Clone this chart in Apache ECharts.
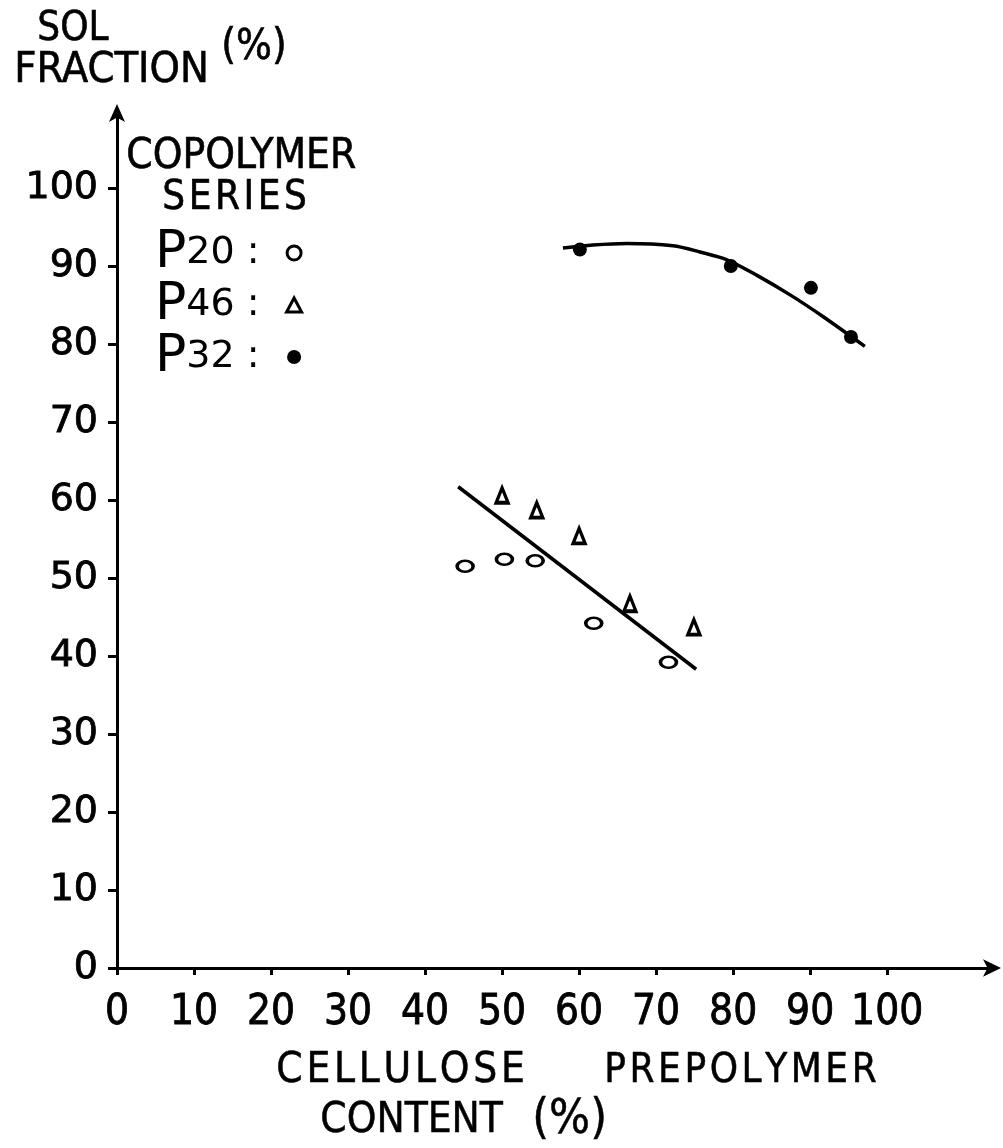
<!DOCTYPE html>
<html>
<head>
<meta charset="utf-8">
<script src="https://cdn.jsdelivr.net/npm/echarts@6/dist/echarts.min.js"></script>
<style>
  html, body { margin: 0; padding: 0; background: #fff; }
  #chart { width: 1003px; height: 1148px; }
</style>
</head>
<body>
<div id="chart"></div>
<script>
// Tick values shown on each axis
const xTicks = [0, 10, 20, 30, 40, 50, 60, 70, 80, 90, 100];
const yTicks = [0, 10, 20, 30, 40, 50, 60, 70, 80, 90, 100];

// Sol fraction (%) vs cellulose prepolymer content (%) for each copolymer series
const p20 = [[45.2, 51.5], [50.3, 52.4], [54.3, 52.2], [61.9, 44.2], [71.6, 39.2]];
const p46 = [[50.0, 60.6], [54.5, 58.7], [60.0, 55.4], [66.6, 46.7], [74.9, 43.7]];
const p32 = [[60.1, 92.1], [79.7, 90.0], [90.1, 87.2], [95.3, 80.9]];

// Hand-drawn trend lines
const trendLow = [[44.3, 61.7], [75.2, 38.3]];
const trendHigh = [[57.9, 92.3], [61.8, 92.7], [66.2, 92.9], [72.2, 92.6], [75.7, 91.8], [79.2, 90.8],
                   [83.1, 88.8], [87.4, 86.3], [91.7, 83.5], [97.1, 79.7]];

const INK = '#000';
const roundFont = "'DejaVu Sans', 'Noto Sans', sans-serif";
const narrowFont = "'DejaVu Sans Condensed', 'Liberation Sans Narrow', sans-serif";
const HS = '\u200A'; // hair space for open lettering

const spaced = (word) => word.split('').join(HS);
const label = (text, left, top, size, extra) => ({
  type: 'text', left: left, top: top,
  style: Object.assign({ text: text, font: size + 'px ' + narrowFont, fill: INK, stroke: INK, lineWidth: 0.6 }, extra || {})
});

const chart = echarts.init(document.getElementById('chart'), null, { renderer: 'canvas' });

chart.setOption({
  backgroundColor: '#fff',
  animation: false,
  grid: { left: 117, right: 8, top: 110, bottom: 180, containLabel: false },
  xAxis: {
    type: 'value', min: 0, max: 114, interval: 10,
    splitLine: { show: false },
    axisLine: { onZero: false, lineStyle: { color: INK, width: 3 }, symbol: ['none', 'arrow'], symbolSize: [13, 18], symbolOffset: [0, 6] },
    axisTick: { show: true, inside: false, length: 7, lineStyle: { color: INK, width: 3 }, customValues: xTicks },
    axisLabel: { customValues: xTicks, color: INK, fontFamily: narrowFont, fontSize: 42, margin: 24,
                 textBorderColor: INK, textBorderWidth: 0.8 }
  },
  yAxis: {
    type: 'value', min: 0, max: 110, interval: 10,
    splitLine: { show: false },
    axisLine: { onZero: false, lineStyle: { color: INK, width: 3 }, symbol: ['none', 'arrow'], symbolSize: [12, 18], symbolOffset: [0, 6] },
    axisTick: { show: true, inside: false, length: 9, lineStyle: { color: INK, width: 3 }, customValues: yTicks },
    axisLabel: { customValues: yTicks, color: INK, fontFamily: roundFont, fontSize: 38, margin: 19,
                 textBorderColor: INK, textBorderWidth: 0.8 }
  },
  legend: {
    data: ['P20', 'P46', 'P32'],
    orient: 'vertical',
    left: 150, top: 222,
    align: 'right',
    itemGap: 0,
    itemWidth: 15, itemHeight: 14,
    itemStyle: { borderWidth: 3 },
    formatter: (name) => '{p|P}{d|' + name.slice(1) + ' :}',
    textStyle: {
      color: INK,
      rich: {
        p: { fontFamily: roundFont, fontSize: 52, color: INK, lineHeight: 47 },
        d: { fontFamily: roundFont, fontSize: 38, color: INK, lineHeight: 47, padding: [0, 22, 0, 0] }
      }
    }
  },
  graphic: [
    label('SOL', 37, 9, 40),
    label('FRACTION', 14, 49, 43),
    label('(%)', 221, 27, 42),
    label('COPOLYMER', 126, 136, 42),
    label(spaced('SERIES'), 162, 178, 40),
    label(spaced('CELLULOSE'), 276, 1050, 42, { lineWidth: 0.5 }),
    label(spaced('PREPOLYMER'), 604, 1051, 40, { lineWidth: 0.5 }),
    label('CONTENT', 320, 1100, 42, { lineWidth: 0.5 }),
    label('(%)', 532, 1096, 48, { lineWidth: 0.5 })
  ],
  series: [
    {
      name: 'P20', type: 'scatter', data: p20,
      symbol: 'circle', symbolSize: [16, 11],
      itemStyle: { color: '#fff', borderColor: INK, borderWidth: 3, opacity: 1 }
    },
    {
      name: 'P46', type: 'scatter', data: p46,
      symbol: 'triangle', symbolSize: [12, 15],
      itemStyle: { color: '#fff', borderColor: INK, borderWidth: 3.5, opacity: 1 }
    },
    {
      name: 'P32', type: 'scatter', data: p32,
      symbol: 'circle', symbolSize: 14,
      itemStyle: { color: INK, opacity: 1 }
    },
    {
      name: 'trendLow', type: 'line', data: trendLow,
      showSymbol: false, silent: true,
      lineStyle: { color: INK, width: 3.5 }
    },
    {
      name: 'trendHigh', type: 'line', data: trendHigh,
      showSymbol: false, silent: true, smooth: 0.3,
      lineStyle: { color: INK, width: 3.5 }
    }
  ]
});
</script>
</body>
</html>
